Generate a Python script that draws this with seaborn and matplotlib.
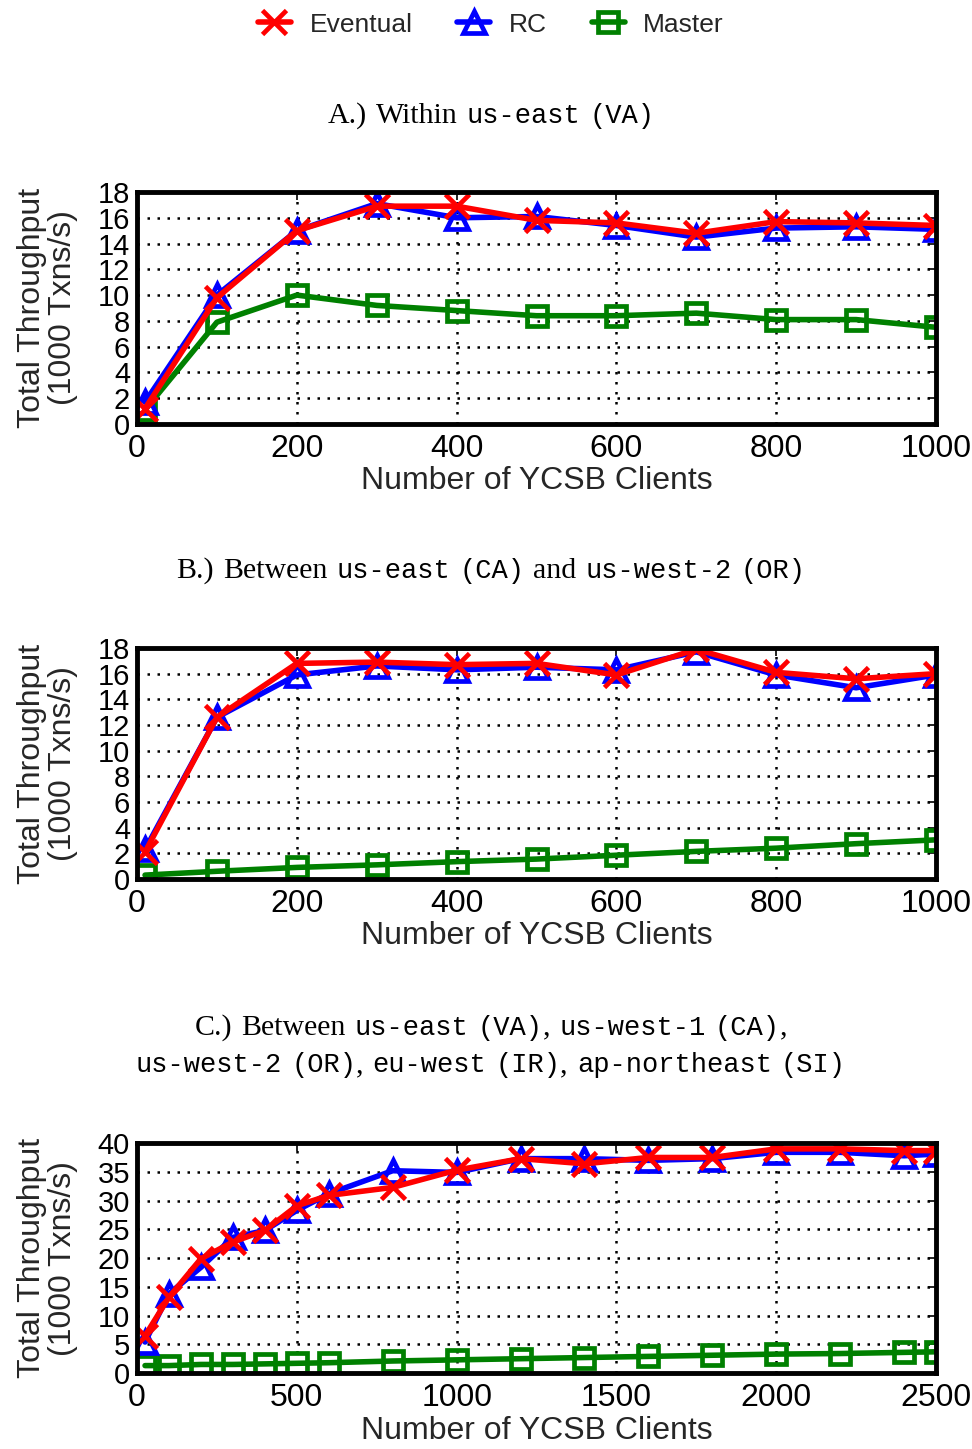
import matplotlib
matplotlib.use("Agg")
import matplotlib.pyplot as plt
import seaborn as sns
from matplotlib.offsetbox import TextArea, HPacker, VPacker, AnchoredOffsetbox

# --- data (throughput in 1000 txns/s) ---
clients_ab = [10, 100, 200, 300, 400, 500, 600, 700, 800, 900, 1000]

eventual_a = [1.2, 9.8, 15.0, 16.9, 16.9, 15.8, 15.6, 14.8, 15.7, 15.6, 15.4]
rc_a = [1.7, 10.0, 15.0, 17.1, 16.0, 16.1, 15.4, 14.5, 15.2, 15.3, 15.1]
master_a = [1.1, 7.9, 10.0, 9.2, 8.8, 8.4, 8.4, 8.6, 8.1, 8.1, 7.5]

eventual_b = [2.1, 12.6, 16.8, 16.9, 16.7, 16.8, 15.9, 17.9, 16.1, 15.6, 16.0]
rc_b = [2.3, 12.6, 15.9, 16.6, 16.3, 16.5, 16.3, 17.7, 15.9, 14.9, 15.9]
master_b = [0.3, 0.6, 0.9, 1.1, 1.35, 1.55, 1.85, 2.15, 2.4, 2.75, 3.05]

clients_c = [25, 100, 200, 300, 400, 500, 600, 800, 1000, 1200, 1400,
             1600, 1800, 2000, 2200, 2400, 2500]
eventual_c = [6.5, 13.2, 19.9, 22.8, 24.8, 29.1, 30.9, 32.3, 35.3, 37.3, 36.4,
              37.5, 37.5, 39.0, 39.0, 38.7, 38.7]
rc_c = [5.4, 13.8, 18.4, 23.6, 24.8, 28.3, 31.2, 35.2, 34.9, 37.3, 37.3,
        37.0, 37.3, 38.4, 38.4, 37.8, 38.1]
master_c = [1.3, 1.3, 1.5, 1.5, 1.6, 1.7, 1.8, 2.1, 2.3, 2.5, 2.7,
            2.9, 3.1, 3.3, 3.4, 3.6, 3.7]

series_names = ["Eventual", "RC", "Master"]

SANS = "Liberation Sans"
SERIF = "Liberation Serif"
MONO = "Liberation Mono"

sns.set_style("white")
plt.rcParams["font.family"] = [SANS, "DejaVu Sans"]

styles = {
    "Eventual": dict(color="#ff0000", marker="x", markersize=17),
    "RC": dict(color="#0000ff", marker="^", markersize=16),
    "Master": dict(color="#008000", marker="s", markersize=15),
}

fig = plt.figure(figsize=(9.72, 14.49), dpi=100)

left, width = 0.141, 0.822
axA = fig.add_axes([left, 0.7074, width, 0.1601])
axB = fig.add_axes([left, 0.3934, width, 0.1594])
axC = fig.add_axes([left, 0.0524, width, 0.1587])


def draw_panel(ax, x, values, xmax, ymax, xstep, ystep):
    # draw Master first so Eventual ends up on top
    for name in ["Master", "RC", "Eventual"]:
        st = styles[name]
        sns.lineplot(x=x, y=values[name], ax=ax, color=st["color"],
                     marker=st["marker"], markersize=st["markersize"],
                     markerfacecolor="none", markeredgecolor=st["color"],
                     markeredgewidth=3.4, linewidth=4, label=name,
                     legend=False)
    ax.set_xlim(0, xmax)
    ax.set_ylim(0, ymax)
    ax.set_xticks(range(0, xmax + 1, xstep))
    ax.set_yticks(range(0, ymax + 1, ystep))
    ax.grid(True, color="black", linestyle=(0, (1, 3)), linewidth=1.8)
    for sp in ax.spines.values():
        sp.set_linewidth(3.5)
        sp.set_color("black")
        sp.set_visible(True)
    ax.tick_params(direction="in", length=6, width=1.2, top=True, right=True,
                   colors="black")
    ax.tick_params(axis="x", pad=7, labelsize=23)
    ax.tick_params(axis="y", pad=5, labelsize=21)
    ax.set_xlabel("Number of YCSB Clients", fontsize=23, labelpad=2)
    ax.set_ylabel("Total Throughput\n(1000 Txns/s)", fontsize=23,
                  labelpad=14, linespacing=1.05)


draw_panel(axA, clients_ab,
           {"Eventual": eventual_a, "RC": rc_a, "Master": master_a},
           1000, 18, 200, 2)
draw_panel(axB, clients_ab,
           {"Eventual": eventual_b, "RC": rc_b, "Master": master_b},
           1000, 18, 200, 2)
draw_panel(axC, clients_c,
           {"Eventual": eventual_c, "RC": rc_c, "Master": master_c},
           2500, 40, 500, 5)

# legend on top
handles, labels = axA.get_legend_handles_labels()
order = [labels.index(n) for n in series_names]
fig.legend([handles[i] for i in order], [labels[i] for i in order],
           loc="center", bbox_to_anchor=(0.505, 0.983), ncol=3,
           frameon=False, fontsize=19, handlelength=1.25,
           handletextpad=0.7, columnspacing=1.7)

# panel titles: serif text mixed with monospace region names
SERIF_SIZE = 21.5
MONO_SIZE = 19.5


def word(parts):
    areas = []
    for txt, fam in parts:
        size = MONO_SIZE if fam == MONO else SERIF_SIZE
        areas.append(TextArea(txt, textprops=dict(family=fam, size=size,
                                                  color="black")))
    if len(areas) == 1:
        return areas[0]
    return HPacker(children=areas, align="baseline", pad=0, sep=0)


def line(words):
    return HPacker(children=[word(w) for w in words], align="baseline",
                   pad=0, sep=6.5)


def S(t):
    return [(t, SERIF)]


def M(t):
    return [(t, MONO)]


def MC(t):
    return [(t, MONO), (",", SERIF)]


title_a = [line([S("A.)"), S("Within"), M("us-east"), M("(VA)")])]
title_b = [line([S("B.)"), S("Between"), M("us-east"), M("(CA)"), S("and"),
                 M("us-west-2"), M("(OR)")])]
title_c = [line([S("C.)"), S("Between"), M("us-east"), MC("(VA)"),
                 M("us-west-1"), MC("(CA)")]),
           line([M("us-west-2"), MC("(OR)"), M("eu-west"), MC("(IR)"),
                 M("ap-northeast"), M("(SI)")])]

for rows, ypos in [(title_a, 0.920), (title_b, 0.606), (title_c, 0.278)]:
    box = VPacker(children=rows, align="center", pad=0, sep=8)
    anchored = AnchoredOffsetbox(loc="center", child=box, pad=0, borderpad=0,
                                 frameon=False, bbox_to_anchor=(0.505, ypos),
                                 bbox_transform=fig.transFigure)
    fig.add_artist(anchored)

fig.savefig("out.png", dpi=100)
